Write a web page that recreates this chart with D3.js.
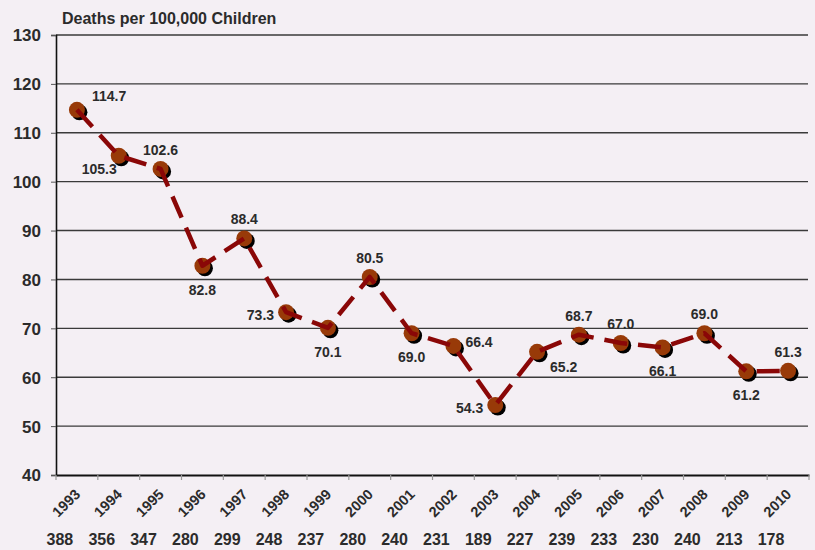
<!DOCTYPE html>
<html>
  <head>
    <title>child deaths</title>
    <meta http-equiv="Content-Type" content="text/html; charset=UTF-8">
    <script src="https://d3js.org/d3.v7.min.js"></script>
    <style>
      body { margin: 0; background: #f4eff4; }
      svg text { font-family: "Liberation Sans", Arial, sans-serif; font-weight: bold; fill: #2b2b2b; }
    </style>
  </head>

  <body>

    <div id="chart">
    </div>

    <script>
      // values
      var years = ["1993","1994","1995","1996","1997","1998","1999","2000","2001",
                   "2002","2003","2004","2005","2006","2007","2008","2009","2010"];
      var rates = [114.7,105.3,102.6,82.8,88.4,73.3,70.1,80.5,69.0,
                   66.4,54.3,65.2,68.7,67.0,66.1,69.0,61.2,61.3];
      var deaths = [388,356,347,280,299,248,237,280,240,231,189,227,239,233,230,240,213,178];
      var yTicks = [40,50,60,70,80,90,100,110,120,130];
      // where each value label sits around its point
      var labelSide = ["ne","sw","n","s","n","w","s","n","s",
                       "e","w","se","n","n","s","n","s","n"];

      var W = 815, H = 550;
      var plotL = 56, plotR = 809, plotT = 35, plotB = 475;

      var svg = d3.select("#chart").append("svg").attr("width", W).attr("height", H)

      var x = d3.scaleBand().domain(years).range([plotL, plotR]);
      var y = d3.scaleLinear().domain([40, 130]).range([plotB, plotT]);
      var cx = function(d, i) { return x(years[i]) + x.bandwidth() / 2; };

      // title
      svg.append("text").attr("x", 62).attr("y", 24).style("font-size", "16px")
        .text("Deaths per 100,000 Children");

      // gridlines
      svg.append("g").selectAll("line").data(yTicks.slice(1)).join("line")
        .attr("x1", plotL).attr("x2", 808)
        .attr("y1", d => y(d)).attr("y2", d => y(d))
        .attr("stroke", "#3a3a3a").attr("stroke-width", 1.4);

      // y axis
      var yAxis = svg.append("g").attr("transform", "translate(" + plotL + ",0)")
        .call(d3.axisLeft(y).tickValues(yTicks).tickSize(5).tickPadding(10));
      yAxis.select(".domain").attr("stroke", "#111").attr("stroke-width", 1.6);
      yAxis.selectAll(".tick line").attr("stroke", "#555");
      yAxis.selectAll(".tick text").style("font-size", "17px").attr("fill", "#2b2b2b")
        .attr("font-family", null).attr("dy", "0.35em");

      // x axis
      var xAxis = svg.append("g").attr("transform", "translate(0," + plotB + ")")
        .call(d3.axisBottom(x).tickSize(0).tickFormat(""));
      xAxis.select(".domain").attr("stroke", "#111").attr("stroke-width", 1.8);
      svg.append("g").selectAll("line").data(d3.range(years.length + 1)).join("line")
        .attr("x1", i => plotL + i * x.step()).attr("x2", i => plotL + i * x.step())
        .attr("y1", plotB).attr("y2", plotB + 5)
        .attr("stroke", "#999").attr("stroke-width", 1.2);

      // rotated year labels
      svg.append("g").selectAll("text").data(years).join("text")
        .attr("text-anchor", "end")
        .attr("transform", d => "translate(" + (x(d) + x.bandwidth() / 2 - 3) + "," + (plotB + 13) + ") rotate(-45)")
        .attr("dy", "0.7em")
        .style("font-size", "14.5px")
        .text(d => d);

      // death counts row
      svg.append("g").selectAll("text").data(deaths).join("text")
        .attr("text-anchor", "middle")
        .attr("x", (d, i) => x(years[i]) + x.bandwidth() / 2 - 17)
        .attr("y", 545)
        .style("font-size", "16px")
        .text(d => d);

      // markers: shadow + fill
      var pts = svg.append("g");
      pts.selectAll("circle.shadow").data(rates).join("circle").attr("class", "shadow")
        .attr("cx", (d, i) => cx(d, i) + 2.5).attr("cy", d => y(d) + 2.5).attr("r", 8)
        .attr("fill", "#000");
      pts.selectAll("circle.dot").data(rates).join("circle").attr("class", "dot")
        .attr("cx", cx).attr("cy", d => y(d)).attr("r", 8)
        .attr("fill", "#983a08");

      // dashed line over the markers
      var line = d3.line().x((d, i) => cx(d, i)).y(d => y(d));
      svg.append("path").datum(rates).attr("d", line)
        .attr("fill", "none").attr("stroke", "#8a0707").attr("stroke-width", 4.5)
        .attr("stroke-dasharray", "23,11").attr("stroke-linejoin", "round");

      // value labels
      var offs = { n: [0, -19, "middle"], s: [0, 24, "middle"], e: [12, -4, "start"], w: [-12, 3, "end"],
                   ne: [15, -14, "start"], sw: [-2, 13, "end"], se: [13, 15, "start"] };
      svg.append("g").selectAll("text").data(rates).join("text")
        .attr("x", (d, i) => cx(d, i) + offs[labelSide[i]][0])
        .attr("y", d => y(d))
        .attr("dy", (d, i) => (offs[labelSide[i]][1] + 5) + "px")
        .attr("text-anchor", (d, i) => offs[labelSide[i]][2])
        .style("font-size", "14px")
        .text(d => d.toFixed(1));
    </script>
  </body>
</html>
